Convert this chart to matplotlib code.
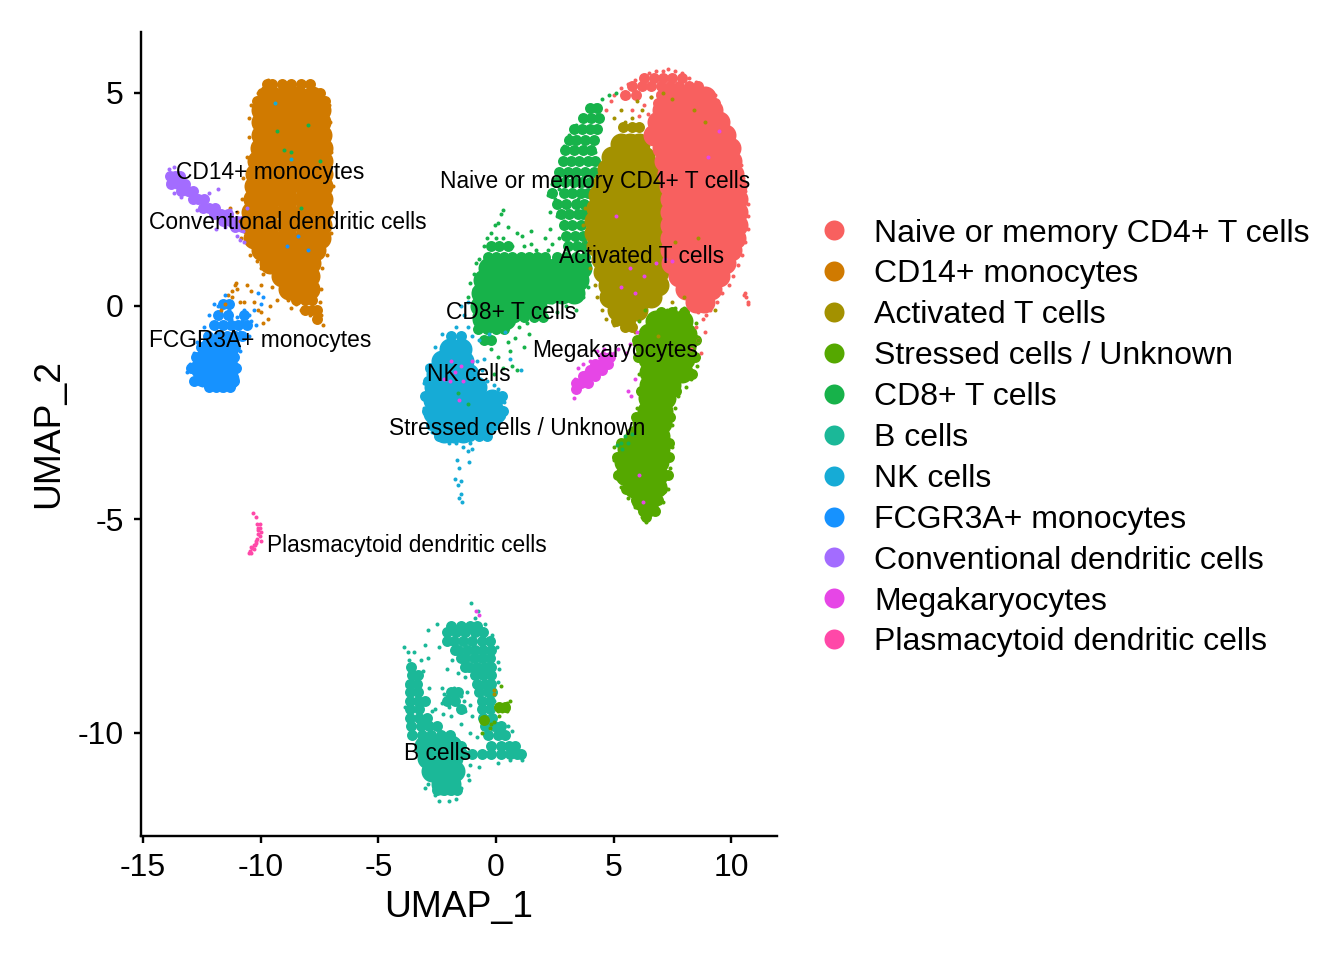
import matplotlib
matplotlib.use("Agg")
import matplotlib.pyplot as plt
from matplotlib.lines import Line2D

plt.rcParams["font.family"] = ["Liberation Sans", "DejaVu Sans"]

cell_types = ["Naive or memory CD4+ T cells", "CD14+ monocytes", "Activated T cells",
              "Stressed cells / Unknown", "CD8+ T cells", "B cells", "NK cells",
              "FCGR3A+ monocytes", "Conventional dendritic cells", "Megakaryocytes",
              "Plasmacytoid dendritic cells"]
colors = ["#F8605F", "#D07A00", "#A39100", "#55A800", "#17B24A", "#1BB898",
          "#16ABD6", "#1692FF", "#A36CFF", "#E646E6", "#FF48A8"]

# label centres
label_x = [4.2, -9.6, 6.2, 0.89, 0.64, -2.5, -1.15, -10.03, -8.84, 5.06, -3.78]
label_y = [2.92, 3.13, 1.16, -2.87, -0.15, -10.49, -1.61, -0.81, 1.96, -1.04, -5.61]

# dense parts of each cluster: UMAP_2 -> UMAP_1 values along that row
naive_dense = {
    4.9: [7.4, 7.9, 8.5, 8.9],
    4.6: [7.1, 7.6, 8.2, 8.8, 9.2],
    4.3: [6.9, 7.5, 8.1, 8.7, 9.2, 9.5],
    4.0: [6.7, 7.2, 7.8, 8.4, 9.0, 9.5, 9.75],
    3.7: [7.1, 7.7, 8.3, 8.9, 9.5, 9.95],
    3.4: [7.2, 7.7, 8.3, 8.9, 9.5, 10.0],
    3.1: [7.3, 7.8, 8.4, 9.0, 9.6, 10.1],
    2.8: [7.4, 7.9, 8.5, 9.1, 9.7, 10.2],
    2.5: [7.45, 8.0, 8.6, 9.1, 9.7, 10.25],
    2.2: [7.45, 8.0, 8.6, 9.1, 9.7, 10.25],
    1.9: [7.45, 8.0, 8.6, 9.1, 9.7, 10.25],
    1.6: [7.45, 8.0, 8.6, 9.1, 9.7, 10.15],
    1.3: [7.45, 8.0, 8.6, 9.1, 9.6, 10.0],
    1.0: [7.5, 8.0, 8.6, 9.2, 9.75],
    0.7: [7.8, 8.3, 8.9, 9.5],
    0.4: [8.1, 8.6, 9.15],
    0.1: [8.5, 8.85],
}
cd14_dense = {
    4.9: [-9.5, -9.0, -8.4, -7.8],
    4.6: [-9.95, -9.4, -8.8, -8.2, -7.5],
    4.3: [-9.95, -9.4, -8.8, -8.2, -7.5],
    4.0: [-9.95, -9.4, -8.8, -8.2, -7.45],
    3.7: [-10.0, -9.4, -8.8, -8.1, -7.4],
    3.4: [-10.1, -9.5, -8.8, -8.1, -7.4],
    3.1: [-10.2, -9.6, -8.8, -8.1, -7.4],
    2.8: [-10.25, -9.6, -8.9, -8.1, -7.4],
    2.5: [-10.3, -9.6, -8.9, -8.1, -7.4],
    2.2: [-10.35, -9.7, -8.9, -8.1, -7.4],
    1.9: [-10.4, -9.7, -8.9, -8.1, -7.45],
    1.6: [-10.3, -9.6, -8.9, -8.1, -7.5],
    1.3: [-9.95, -9.4, -8.8, -8.2, -7.7],
    1.0: [-9.6, -9.1, -8.5, -7.9],
    0.7: [-9.1, -8.6, -7.95],
    0.4: [-8.8, -8.3, -7.95],
}
activated_dense = {
    3.8: [5.3, 5.7, 6.1],
    3.5: [4.95, 5.4, 5.9, 6.3],
    3.2: [4.75, 5.3, 5.9, 6.5],
    2.9: [4.6, 5.1, 5.7, 6.2, 6.7],
    2.6: [4.4, 4.9, 5.5, 6.1, 6.8],
    2.3: [4.3, 4.9, 5.5, 6.1, 6.8],
    2.0: [4.2, 4.7, 5.4, 6.1, 6.8],
    1.7: [4.2, 4.7, 5.4, 6.1, 6.8],
    1.4: [4.3, 4.8, 5.5, 6.2, 6.8],
    1.1: [4.5, 5.0, 5.6, 6.2, 6.8],
    0.8: [4.6, 5.1, 5.7, 6.3, 6.9],
    0.5: [4.8, 5.3, 5.9, 6.4, 6.9],
    0.2: [4.85, 5.3, 5.9, 6.6],
    -0.1: [5.2, 5.6, 6.0],
}
stressed_dense = {
    -0.35: [6.8, 7.4, 7.9],
    -0.65: [6.5, 7.0, 7.6, 8.1],
    -0.95: [6.4, 7.0, 7.6, 8.05],
    -1.25: [6.5, 7.1, 7.6, 8.0],
    -1.55: [6.55, 7.1, 7.6, 7.9],
    -1.85: [6.55, 7.0, 7.4],
    -2.15: [6.5, 6.9, 7.2],
    -2.45: [6.45, 6.8, 7.05],
    -2.75: [6.25, 6.7, 7.0],
    -3.05: [5.95, 6.4, 6.95],
    -3.35: [5.6, 6.0, 6.5, 6.95],
    -3.65: [5.5, 5.9, 6.5, 6.9],
    -3.95: [5.55, 6.0, 6.5, 6.85],
    -4.25: [5.85, 6.3, 6.8],
    -4.55: [6.2, 6.5],
}
cd8_dense = {
    0.9: [-0.3, 0.1, 0.6, 1.1, 1.6, 2.1, 2.6, 3.1, 3.6],
    0.6: [-0.5, -0.1, 0.4, 0.9, 1.4, 1.9, 2.4, 2.9, 3.5],
    0.3: [-0.6, -0.2, 0.3, 0.8, 1.3, 1.8, 2.3, 2.8, 3.3],
    0.0: [-0.65, -0.3, 0.2, 0.7, 1.2, 1.7],
    -0.3: [-0.55, -0.1, 0.4],
}
nk_dense = {
    -1.0: [-1.95, -1.5],
    -1.3: [-2.3, -1.9, -1.4],
    -1.6: [-2.5, -2.1, -1.6, -1.2],
    -1.9: [-2.6, -2.2, -1.7, -1.2, -0.85],
    -2.2: [-2.65, -2.2, -1.7, -1.2, -0.7, -0.15],
    -2.5: [-2.65, -2.2, -1.7, -1.2, -0.7, -0.2, -0.05],
    -2.75: [-2.35, -1.9, -1.4, -0.9, -0.4],
    -2.95: [-2.2, -1.8, -1.4],
}
fcgr_dense = {
    -0.95: [-12.1, -11.7, -11.4],
    -1.2: [-12.3, -11.9, -11.5],
    -1.45: [-12.55, -12.1, -11.6, -11.4],
    -1.7: [-12.1, -11.6, -11.4],
}
b_dense = {
    -10.3: [-3.0, -2.5, -1.9],
    -10.6: [-2.9, -2.4, -1.85],
    -10.9: [-2.7, -2.2, -1.8],
    -11.2: [-2.3, -1.95],
}

# narrower parts, same layout
naive_narrow = {
    5.35: [6.3, 6.7, 7.1, 7.5, 7.9],
    5.15: [5.8, 6.2, 6.6, 7.0, 7.4, 7.8, 8.2, 8.6],
    4.95: [5.5, 5.95, 7.0, 7.4, 9.1],
    4.75: [6.9, 9.3],
}
cd14_narrow = {
    5.2: [-9.75, -9.5, -9.1, -8.7, -8.3, -7.9],
    5.0: [-9.95, -9.6, -7.5],
    4.8: [-10.15, -7.25],
    0.15: [-8.5, -8.1, -7.8],
    -0.1: [-8.1, -7.8, -7.6],
    -0.3: [-7.6],
}
activated_narrow = {
    4.2: [5.4, 5.8, 6.1],
    -0.35: [5.1, 5.4, 5.7],
    -0.5: [5.5, 5.8],
}
stressed_narrow = {
    -4.8: [6.25, 6.55, 6.75],
    -4.95: [6.4],
    -4.55: [5.95, 6.9],
    -4.3: [5.55, 7.05],
    -3.95: [5.2, 7.3],
    -3.55: [5.15, 7.35],
    -3.2: [5.3, 7.35],
    -2.6: [5.95, 7.4],
    -2.0: [7.65, 6.15],
    -1.6: [8.35],
    -1.2: [8.45, 6.05],
    -0.8: [8.5, 6.0],
    -0.15: [7.0, 7.5, 8.0],
    -9.4: [0.15, 0.4],
    -9.7: [-0.5],
}
cd8_narrow = {
    4.65: [4.0, 4.3],
    4.4: [3.7, 4.05, 4.4],
    4.15: [3.3, 3.65, 4.0, 4.3],
    3.9: [3.1, 3.4, 3.8, 4.15],
    3.65: [2.95, 3.3, 3.7, 4.05],
    3.4: [2.85, 3.2, 3.55, 3.9, 4.2],
    3.15: [2.7, 3.05, 3.4, 3.8, 4.15],
    2.9: [2.55, 2.95, 3.3, 3.65, 4.0],
    2.65: [2.4, 2.9, 3.25, 3.6, 3.9],
    2.4: [2.6, 3.0, 3.4, 3.75],
    2.15: [2.75, 3.1, 3.5, 3.7],
    1.9: [2.9, 3.25, 3.6],
    1.65: [3.0, 3.35, 3.7],
    1.4: [-0.2, 0.15, 0.5, 3.05, 3.45, 3.8],
    1.15: [-0.35, 0.0, 0.35, 0.7, 1.05, 1.4, 1.75, 2.1, 2.6, 3.0, 3.4, 3.8],
    -0.55: [-0.75, -0.4, 0.0, 0.35],
    -0.25: [0.8, 1.2, 1.6, 2.0],
    -0.8: [-0.5, -0.2],
}
nk_narrow = {
    -0.7: [-1.9, -1.5],
    -1.45: [-2.8],
    -1.75: [-2.9],
    -2.1: [-3.0, 0.05, 0.25],
    -2.45: [-2.95, 0.3],
    -2.8: [-2.75, -0.1],
    -3.05: [-2.4, -2.0, -1.6, -1.1, -0.7, -0.4],
}
fcgr_narrow = {
    0.05: [-11.6, -11.35],
    -0.2: [-11.8, -11.4, -10.7],
    -0.45: [-12.0, -11.6, -11.25, -10.95, -10.6],
    -0.7: [-12.25, -11.8, -11.45, -11.1, -10.8],
    -0.95: [-12.55, -11.1, -11.3],
    -1.2: [-12.75, -11.15],
    -1.45: [-12.95, -11.05],
    -1.75: [-12.85, -12.55, -11.15],
    -1.9: [-12.2, -11.9, -11.6, -11.3],
}
b_narrow = {
    -7.5: [-1.9, -1.5, -1.1, -0.8],
    -7.65: [-2.1, -1.7, -1.3, -0.9, -0.55],
    -7.85: [-2.1, -1.8, -1.4, -1.0, -0.6, -0.25],
    -8.05: [-1.75, -1.6, -1.25, -0.9, -0.55, -0.2],
    -8.25: [-1.5, -1.3, -0.95, -0.6, -0.25],
    -8.45: [-1.3, -1.15, -0.8, -0.45, -0.2, -3.6],
    -8.65: [-0.9, -0.55, -0.2, -3.55, -3.3],
    -8.85: [-0.8, -0.45, -0.2, -3.65, -3.35],
    -9.05: [-0.7, -0.35, -0.15, -3.65, -3.3, -1.9, -1.6],
    -9.25: [-0.6, -0.25, -3.65, -3.3, -3.0, -2.1, -1.75],
    -9.45: [-0.6, -0.25, -3.65, -3.25, -1.5],
    -9.65: [-0.55, -0.15, -3.65, -3.25, -2.95],
    -9.85: [-0.45, -0.1, 0.2, -3.6, -3.2, -2.85, -2.5],
    -10.05: [-0.35, 0.1, 0.4, -3.55, -3.15, -2.75, -2.35, -1.95],
    -10.3: [-1.5, -0.2, 0.2, 0.55, 0.8],
    -10.5: [-1.4, -1.0, -0.6, -0.2, 0.2, 0.6, 0.9, 1.05],
    -11.35: [-2.5, -2.2, -1.9, -1.65],
}
conv_narrow = {
    3.05: [-13.85, -13.65, -13.45],
    2.85: [-13.8, -13.5, -13.2],
    2.7: [-13.4, -13.1, -12.9],
    2.5: [-12.9, -12.65, -12.4],
    2.3: [-12.45, -12.2, -11.95],
    2.15: [-12.0, -11.7, -11.4],
    2.0: [-11.6, -11.3, -11.0, -10.8],
    1.85: [-11.1, -10.8],
}
mega_narrow = {
    -1.2: [4.85, 4.55],
    -1.35: [4.75, 4.45, 4.2],
    -1.5: [4.5, 4.25, 4.0],
    -1.65: [4.2, 3.95, 3.7],
    -1.8: [3.9, 3.6, 3.4],
    -1.95: [3.4],
}

# single cells on the edges and strays, (UMAP_1, UMAP_2)
naive_cells = [(4.7, 4.6), (4.9, 4.8), (5.0, 4.95), (5.3, 5.1), (5.6, 5.2), (5.9, 5.3), (6.2, 5.38),
               (6.5, 5.45), (6.8, 5.5), (7.1, 5.5), (7.3, 5.55), (7.6, 5.5), (7.9, 5.45), (8.2, 5.35),
               (8.5, 5.25), (8.8, 5.05), (9.1, 4.9), (9.4, 4.7), (9.6, 4.45), (9.85, 4.2), (10.05, 3.9),
               (10.25, 3.6), (10.4, 3.3), (10.5, 3.0), (10.6, 2.7), (10.7, 2.4), (10.72, 2.1), (10.7, 1.8),
               (10.6, 1.5), (10.45, 1.2), (10.3, 0.95), (10.1, 0.7), (9.9, 0.5), (9.6, 0.3), (9.4, 0.1),
               (9.1, -0.1), (8.8, -0.3), (8.9, -0.6), (8.6, -0.8), (8.3, -1.0), (5.6, 4.9), (5.8, 4.6),
               (6.0, 5.0), (6.3, 4.7), (6.9, 5.0), (6.6, 4.9), (6.75, 4.4), (10.6, 0.3), (10.62, 0.2),
               (10.7, 0.1), (10.72, 0.05), (10.55, 0.25), (8.5, -0.5), (8.7, -1.1), (9.3, 4.95), (10.1, 3.5),
               (6.1, 4.45), (6.45, 4.5), (9.6, 0.6), (9.8, 0.9), (8.95, -0.2), (8.6, -0.15)]
cd14_cells = [(-9.7, 5.3), (-9.9, 5.1), (-9.4, 5.15), (-9.0, 5.15), (-8.5, 5.1), (-8.0, 5.05), (-7.5, 4.95),
              (-7.1, 4.7), (-7.05, 4.3), (-7.0, 3.6), (-6.93, 2.8), (-6.95, 2.2), (-7.0, 1.7), (-7.2, 1.2),
              (-7.4, 0.9), (-7.45, 0.4), (-7.5, 0.1), (-7.45, -0.2), (-7.35, -0.45), (-7.6, -0.3), (-7.9, -0.2),
              (-8.3, -0.1), (-8.5, 0.05), (-9.0, 0.3), (-9.5, 0.45), (-9.9, 0.75), (-10.15, 1.05), (-10.45, 1.2),
              (-10.85, 1.6), (-10.9, 2.0), (-10.8, 2.5), (-10.75, 3.0), (-10.6, 3.5), (-10.5, 3.95), (-10.5, 4.4),
              (-10.4, 4.7), (-10.1, 5.0), (-10.0, 0.9), (-11.0, 2.2), (-11.3, 2.3), (-10.6, 0.5), (-10.0, 0.5),
              (-11.1, 0.5), (-11.0, 0.4), (-11.05, 0.55), (-11.2, 0.2), (-11.4, 0.25), (-11.5, 0.05), (-10.9, 0.1),
              (-10.7, 0.1), (-10.3, 0.1), (-10.1, -0.1), (-9.9, -0.4), (-9.7, -0.3), (-9.6, 0.0), (-11.7, -0.1),
              (-10.4, 0.35), (-10.0, -0.15), (-9.2, 0.6), (-8.85, 0.15), (-9.3, 0.15), (-8.7, -0.05), (-11.2, 0.35)]
activated_cells = [(5.0, 4.4), (5.3, 4.6), (5.5, 4.3), (5.8, 4.4), (6.0, 4.2), (6.2, 4.6), (6.0, 4.8), (6.6, 4.9),
                   (7.1, 5.0), (7.5, 4.85), (8.4, 4.6), (8.9, 4.3), (3.8, 2.3), (3.7, 1.9), (3.8, 1.5), (4.0, 0.9),
                   (4.2, 0.5), (4.3, 0.2), (4.5, -0.1), (4.7, -0.3), (5.0, -0.45), (5.5, -0.55), (5.9, -0.6), (7.2, 0.4),
                   (7.5, 0.1), (8.0, 0.2), (8.6, 1.6), (7.6, 1.5), (9.3, -0.1), (-0.1, -9.0), (-0.1, -9.1), (6.9, -0.7)]
stressed_cells = [(7.27, -0.1), (7.6, -0.05), (8.0, -0.05), (8.5, -0.4), (8.6, -0.8), (8.6, -1.2), (8.55, -1.4),
                  (8.3, -1.7), (8.1, -1.9), (7.75, -2.1), (7.6, -2.4), (7.5, -2.8), (7.5, -3.3), (7.4, -3.8),
                  (7.3, -4.3), (7.1, -4.6), (6.8, -4.8), (6.4, -5.06), (6.2, -4.95), (5.9, -4.7), (5.6, -4.5),
                  (5.3, -4.25), (5.05, -4.0), (5.0, -3.6), (5.0, -3.3), (5.5, -3.1), (5.9, -2.8), (6.0, -2.4),
                  (6.05, -2.0), (6.1, -1.6), (5.85, -0.9), (6.1, -0.35), (6.35, -0.1), (0.35, -9.4), (0.45, -9.3),
                  (0.5, -9.45), (0.25, -9.5), (0.15, -9.6), (0.6, -9.25), (0.1, -9.5), (0.45, -9.5), (-0.25, -9.9),
                  (-0.1, -9.75), (-0.6, -10.0), (0.2, -8.9), (0.3, -9.35), (0.4, -9.4), (0.2, -9.45), (-0.2, -9.8)]
cd8_cells = [(5.1, 5.0), (4.8, 4.95), (4.5, 4.85), (4.2, 4.7), (3.9, 4.6), (3.6, 4.45), (4.1, 4.4), (3.4, 4.25),
             (3.8, 4.2), (4.2, 4.15), (3.1, 4.0), (3.5, 3.95), (3.9, 3.9), (2.9, 3.75), (3.3, 3.7), (3.7, 3.65),
             (4.2, 3.6), (2.75, 3.4), (3.1, 3.35), (2.6, 3.1), (2.9, 3.05), (4.1, 3.1), (2.4, 2.85), (2.7, 2.75),
             (2.2, 2.6), (2.5, 2.5), (2.8, 2.4), (3.5, 2.5), (2.3, 2.2), (2.6, 2.1), (2.9, 2.0), (3.6, 2.1), (2.3, 1.8),
             (2.7, 1.6), (3.0, 1.4), (3.8, 1.5), (0.2, 2.15), (0.3, 2.25), (-0.05, 1.9), (0.1, 1.95), (-0.2, 1.7),
             (0.0, 1.6), (0.3, 1.6), (0.7, 1.4), (1.1, 1.65), (1.5, 1.75), (1.2, 1.4), (1.7, 1.3), (1.9, 1.2), (2.2, 1.3),
             (0.6, 1.2), (-0.5, 1.4), (-0.7, 1.1), (-0.95, 0.75), (-1.1, 0.55), (-1.2, 0.2), (2.7, 1.1), (3.4, -0.1),
             (3.0, 0.0), (2.6, -0.15), (1.9, -0.2), (1.3, -0.4), (1.0, -0.5), (0.8, -0.75), (0.5, -0.85), (1.2, -0.95),
             (1.4, -0.65), (-0.5, -0.85), (-0.2, -1.0), (0.1, -1.2), (0.3, -1.45), (-0.1, -1.6), (0.7, -1.4), (0.6, -1.05),
             (0.9, -1.5), (5.5, -3.05), (5.6, -3.2), (5.8, -3.0), (5.3, -3.2), (5.35, -3.35), (5.15, -3.25),
             (-9.3, 4.1), (-8.0, 4.25), (-9.0, 3.65), (-8.7, 3.6), (-7.5, 3.4), (-8.3, 2.3), (-1.6, -2.05), (-1.2, -2.3),
             (0.5, 1.85), (0.9, 1.7), (1.5, 1.45), (2.1, 1.6), (2.4, 1.45), (-0.4, 1.6), (-0.85, 1.0), (1.9, 0.05), (2.4, 0.1),
             (2.8, 0.2), (3.7, 0.2), (3.9, 0.45), (-0.95, 0.4), (-0.9, 0.1), (-0.95, -0.2)]
b_cells = [(-1.05, -6.95), (-0.75, -7.15), (-0.9, -7.3), (-0.45, -7.45), (-0.15, -7.7), (0.05, -8.0), (0.1, -8.35),
           (0.15, -8.5), (0.1, -8.8), (-0.1, -9.25), (-0.9, -8.9), (-1.3, -8.7), (-1.6, -8.6), (-2.1, -8.5), (-1.85, -8.3),
           (-2.4, -8.0), (-3.0, -7.95), (-2.9, -7.6), (-2.5, -7.45), (-2.9, -8.25), (-3.1, -8.55), (-2.85, -8.95),
           (-2.3, -8.95), (-2.0, -9.0), (-1.6, -9.0), (-1.5, -9.15), (-1.9, -9.2), (-2.3, -9.3), (-2.6, -9.45),
           (-2.0, -9.4), (-1.5, -9.4), (-1.3, -9.5), (-1.0, -9.6), (-1.5, -9.8), (-1.1, -10.0), (-0.8, -10.1), (0.5, -9.85),
           (0.7, -9.95), (0.4, -10.05), (0.9, -10.35), (1.15, -10.55), (1.1, -10.65), (0.6, -10.65), (0.1, -10.7),
           (-0.7, -10.8), (-1.1, -10.75), (-1.2, -11.0), (-1.15, -11.1), (-2.9, -11.2), (-3.0, -11.3),
           (-2.6, -11.45), (-2.4, -11.6), (-2.0, -11.6), (-1.7, -11.55), (-1.5, -11.3), (-3.8, -8.9), (-3.85, -9.4),
           (-3.7, -8.3), (-3.75, -8.1), (-3.5, -8.1), (-3.9, -8.0), (-3.2, -8.3), (-2.2, -9.1), (-2.1, -9.15), (-1.8, -8.95),
           (-1.7, -9.05), (-1.35, -9.25), (-1.25, -9.05), (-1.1, -9.35), (-2.25, -9.55), (-2.7, -9.5), (-1.9, -9.6)]
nk_cells = [(-1.2, 0.1), (-1.35, -0.2), (-1.5, 0.0), (-1.2, -0.5), (-1.7, -0.5), (-2.3, -0.65), (-2.6, -0.95),
            (-2.95, -1.4), (-3.05, -1.8), (-3.1, -2.1), (-3.05, -2.4), (-2.9, -2.8), (-2.7, -2.95), (-2.3, -3.1),
            (-2.0, -3.2), (-1.7, -3.2), (-1.1, -3.1), (-0.8, -3.05), (-0.4, -3.0), (0.1, -2.75), (0.35, -2.25),
            (0.3, -2.6), (-0.4, -1.75), (-0.1, -1.85), (0.1, -1.95), (0.1, -2.05), (-0.6, -1.5), (-0.8, -1.3),
            (-1.0, -0.7), (-1.4, -3.3), (-1.2, -3.4), (-1.0, -3.35), (-1.1, -3.2), (-1.65, -3.6), (-1.15, -3.65),
            (-1.55, -3.8), (-1.75, -4.05), (-1.5, -4.1), (-1.6, -4.2), (-1.5, -4.4), (-1.45, -4.6), (-1.55, -4.5),
            (-0.7, -0.8), (-0.3, -0.65), (0.4, -0.6), (0.6, -1.25), (-0.5, -1.25), (1.05, -1.5), (-9.4, 4.75), (-8.7, 3.45)]
fcgr_cells = [(-11.5, 0.25), (-11.35, -0.1), (-11.0, -0.25), (-10.7, -0.1), (-10.5, -0.2), (-10.4, -0.35), (-10.2, -0.45),
              (-10.3, -0.1), (-10.0, 0.05), (-9.9, 0.2), (-10.1, 0.3), (-10.6, -0.5), (-10.9, -0.6), (-11.0, -0.85),
              (-10.9, -1.05), (-11.0, -1.4), (-11.05, -1.7), (-11.3, -1.9), (-11.7, -1.97), (-12.1, -1.9), (-12.5, -1.85),
              (-12.8, -1.7), (-13.15, -1.55), (-13.0, -1.35), (-12.85, -1.1), (-12.7, -0.85), (-12.4, -0.5), (-12.2, -0.2),
              (-12.0, 0.05), (-11.8, -0.0), (-10.8, -0.35), (-11.25, -0.3), (-10.75, -0.75), (-10.5, -0.7), (-8.4, 1.65), (-8.0, 1.3), (-8.9, 1.4)]
conv_cells = [(-13.95, 3.1), (-13.9, 3.2), (-13.7, 3.25), (-13.95, 2.9), (-13.7, 2.65), (-13.4, 2.55), (-12.2, 2.65), (-11.8, 2.75), (-12.7, 2.25),
              (-11.9, 1.8), (-11.5, 1.85), (-11.0, 1.65), (-10.9, 1.55), (-10.7, 1.5), (-10.75, 1.75), (-11.3, 2.25), (-10.6, 2.3)]
mega_cells = [(5.0, -1.1), (5.2, -1.0), (4.6, -1.0), (4.3, -1.05), (4.0, -1.3), (3.8, -1.55), (3.7, -1.35), (3.5, -1.45), (3.3, -2.15), (3.35, -1.7),
              (5.55, -1.1), (5.7, -0.9), (6.0, -0.6), (5.9, -1.7), (5.6, -2.0), (5.75, -2.1), (6.1, -3.95), (6.25, -4.6), (5.7, 0.9), (5.3, 0.45), (6.3, 0.7),
              (6.8, 1.0), (7.2, 1.1), (7.5, 1.05), (5.9, 0.3), (5.1, 2.1)]
mega_cells += [(-1.9, -1.3), (-1.75, -1.55), (-1.5, -1.4), (-1.95, -1.75), (-2.2, -1.7), (-1.4, -1.75), (-1.0, -1.3), (-1.55, -2.2), (-0.85, -7.15), (-0.7, -7.25), (9.0, 3.5), (9.5, 4.1)]
pdc_cells = [(-10.33, -4.85), (-10.2, -4.95), (-10.15, -5.1), (-10.05, -5.1), (-10.1, -5.2), (-10.0, -5.3), (-10.05, -5.4), (-10.1, -5.35), (-10.0, -5.5),
             (-10.15, -5.45), (-10.2, -5.55), (-10.25, -5.6), (-10.3, -5.6), (-10.3, -5.7), (-10.4, -5.65), (-10.45, -5.75), (-10.5, -5.8),
             (-10.12, -5.25), (-10.02, -5.2), (-10.18, -5.5), (-10.35, -5.68), (-10.42, -5.8)]

dense_rows = [naive_dense, cd14_dense, activated_dense, stressed_dense, cd8_dense, b_dense, nk_dense, fcgr_dense, {}, {}, {}]
narrow_rows = [naive_narrow, cd14_narrow, activated_narrow, stressed_narrow, cd8_narrow, b_narrow, nk_narrow,
               fcgr_narrow, conv_narrow, mega_narrow, {}]
single_cells = [naive_cells, cd14_cells, activated_cells, stressed_cells, cd8_cells, b_cells, nk_cells,
                fcgr_cells, conv_cells, mega_cells, pdc_cells]


def row_points(rows):
    xs, ys = [], []
    for y, row in rows.items():
        xs += row
        ys += [y] * len(row)
    return xs, ys


fig = plt.figure(figsize=(1344 / 144, 960 / 144), dpi=144)
ax = fig.add_axes([141 / 1344, 1 - 836 / 960, (777 - 141) / 1344, (836 - 32) / 960])

# reversed so the bigger clusters sit on top where they touch
for rows, color in zip(narrow_rows[::-1], colors[::-1]):
    xs, ys = row_points(rows)
    ax.scatter(xs, ys, s=30, color=color, linewidths=0)
for rows, color in zip(dense_rows[::-1], colors[::-1]):
    xs, ys = row_points(rows)
    ax.scatter(xs, ys, s=121, color=color, linewidths=0)
for cells, color in zip(single_cells, colors):
    ax.scatter([c[0] for c in cells], [c[1] for c in cells], s=4, color=color, linewidths=0)

for name, x, y in zip(cell_types, label_x, label_y):
    ax.text(x, y, name, fontsize=11.4, ha="center", va="center", color="black")

ax.set_xlim(-15.09, 11.95)
ax.set_ylim(-12.42, 6.42)
ax.set_xticks([-15, -10, -5, 0, 5, 10])
ax.set_yticks([-10, -5, 0, 5])
ax.set_xticklabels(["-15", "-10", "-5", "0", "5", "10"])
ax.set_yticklabels(["-10", "-5", "0", "5"])
ax.tick_params(labelsize=16, width=1.2, length=3.6, pad=5)
ax.set_xlabel("UMAP_1", fontsize=18.6, labelpad=3.5)
ax.set_ylabel("UMAP_2", fontsize=18.6, labelpad=6)
ax.spines["top"].set_visible(False)
ax.spines["right"].set_visible(False)
ax.spines["left"].set_linewidth(1.2)
ax.spines["bottom"].set_linewidth(1.2)

handles = [Line2D([], [], linestyle="", marker="o", markersize=10, markeredgewidth=0, color=c) for c in colors]
fig.legend(handles, cell_types, loc="center left", bbox_to_anchor=(812 / 1344, 1 - 438 / 960), frameon=False,
           fontsize=16, labelspacing=0.34, handletextpad=0.55, handlelength=1.4, borderpad=0, borderaxespad=0)

fig.savefig("out.png", dpi=144)
